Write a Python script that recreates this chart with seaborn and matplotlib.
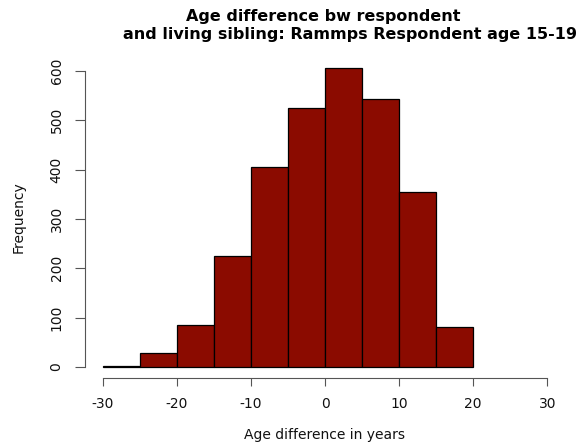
import numpy as np
import pandas as pd
import matplotlib
matplotlib.use("Agg")
import matplotlib.pyplot as plt
import seaborn as sns

# Histogram of age difference between respondent and living sibling (5-year bins)
bin_edges = [-30, -25, -20, -15, -10, -5, 0, 5, 10, 15, 20]
counts = [3, 29, 86, 226, 406, 526, 607, 543, 355, 82]
x_ticks = [-30, -20, -10, 0, 10, 20, 30]
y_ticks = [0, 100, 200, 300, 400, 500, 600]

title_line1 = "Age difference bw respondent"
title_line2 = "and living sibling: Rammps Respondent age 15-19"
x_label = "Age difference in years"
y_label = "Frequency"

sns.set_style("white")
plt.rcParams["font.family"] = ["DejaVu Sans"]
plt.rcParams["axes.unicode_minus"] = False

edges = np.array(bin_edges, dtype=float)
df = pd.DataFrame({"mid": (edges[:-1] + edges[1:]) / 2, "n": counts})

fig = plt.figure(figsize=(5.82, 4.45), dpi=100)
ax = fig.add_axes([85 / 582, 1 - 378.3 / 445, 480 / 582, (378.3 - 56) / 445])

sns.histplot(data=df, x="mid", weights="n", bins=list(bin_edges), stat="count",
             color="#8B0B00", edgecolor="black", linewidth=0.9, alpha=1.0, ax=ax)

ax.set_xlim(-32.4, 32.4)
ax.set_ylim(-22.9, 630.5)
ax.set_xticks(x_ticks)
ax.set_yticks(y_ticks)

axis_col = "#555555"
for side in ("top", "right"):
    ax.spines[side].set_visible(False)
ax.spines["left"].set_bounds(0, 600)
ax.spines["bottom"].set_bounds(-30, 30)
for side in ("left", "bottom"):
    ax.spines[side].set_color(axis_col)
    ax.spines[side].set_linewidth(0.8)

ax.tick_params(axis="x", direction="out", length=5.8, width=0.8, color=axis_col,
               pad=8, labelsize=10, labelcolor="#111111", bottom=True)
ax.tick_params(axis="y", direction="out", length=7.2, width=0.8, color=axis_col,
               pad=8.2, labelsize=10, labelcolor="#111111", left=True, labelrotation=90)
for lab in ax.get_yticklabels():
    lab.set_va("center")

ax.set_xlabel(x_label, fontsize=10, labelpad=12, color="#111111")
ax.set_ylabel(y_label, fontsize=10, labelpad=17, color="#111111")

fig.text(323 / 582, 1 - 20.7 / 445, title_line1, ha="center", va="baseline",
         fontsize=11.5, fontweight="bold", color="black")
fig.text(350 / 582, 1 - 39 / 445, title_line2, ha="center", va="baseline",
         fontsize=11.5, fontweight="bold", color="black")

fig.savefig("out.png", dpi=100, facecolor="white")
